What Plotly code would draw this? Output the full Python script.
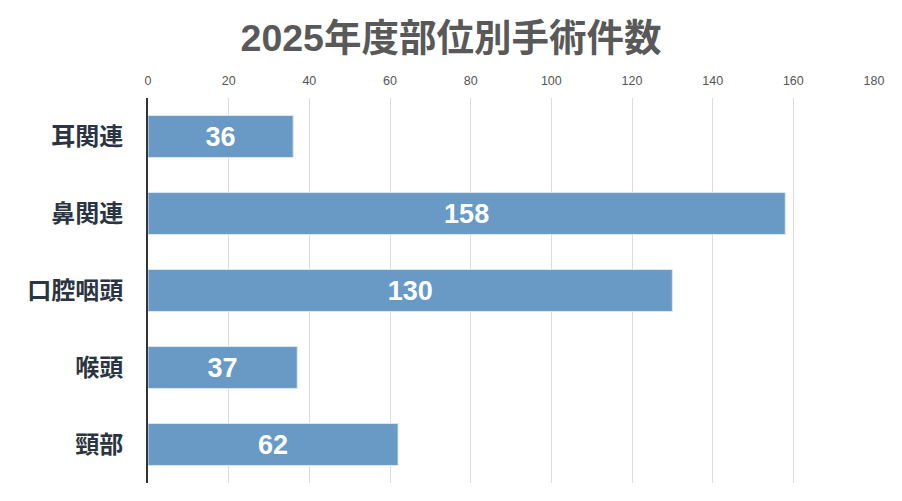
import plotly.graph_objects as go

categories = ["耳関連", "鼻関連", "口腔咽頭", "喉頭", "頸部"]
values = [36, 158, 130, 37, 62]
tick_vals = [0, 20, 40, 60, 80, 100, 120, 140, 160, 180]
title_text = "2025年度部位別手術件数"

FONT = "Liberation Sans, Noto Sans CJK JP, sans-serif"

fig = go.Figure()
fig.add_trace(go.Bar(
    x=values,
    y=categories,
    orientation="h",
    width=0.545,
    marker=dict(color="rgb(104,154,197)", line=dict(color="#dbe7f3", width=1)),
    text=[str(v) for v in values],
    textposition="inside",
    insidetextanchor="middle",
    textfont=dict(family=FONT, size=27, color="white", weight="bold"),
    hoverinfo="skip",
))

fig.update_layout(
    width=902, height=501,
    margin=dict(l=148, r=28, t=98, b=18),
    paper_bgcolor="white", plot_bgcolor="white",
    showlegend=False,
    title=dict(
        text=title_text,
        x=0.5, xanchor="center", y=0.925, yanchor="middle",
        font=dict(family=FONT, size=37.5, color="#595959", weight="bold"),
    ),
    xaxis=dict(
        side="top",
        range=[0, 180],
        tickvals=tick_vals,
        ticktext=[str(t) for t in tick_vals],
        showgrid=True, gridcolor="#dcdcdc", gridwidth=1,
        zeroline=False, showline=False,
        ticks="", ticklabelstandoff=10,
        tickfont=dict(family=FONT, size=12.5, color="#555555"),
    ),
    yaxis=dict(
        autorange="reversed",
        showgrid=False, zeroline=False,
        showline=True, linecolor="#333333", linewidth=2,
        ticks="", ticklabelstandoff=18,
        tickfont=dict(family=FONT, size=24, color="#2b3442", weight="bold"),
    ),
)

fig.write_html("out.html")
